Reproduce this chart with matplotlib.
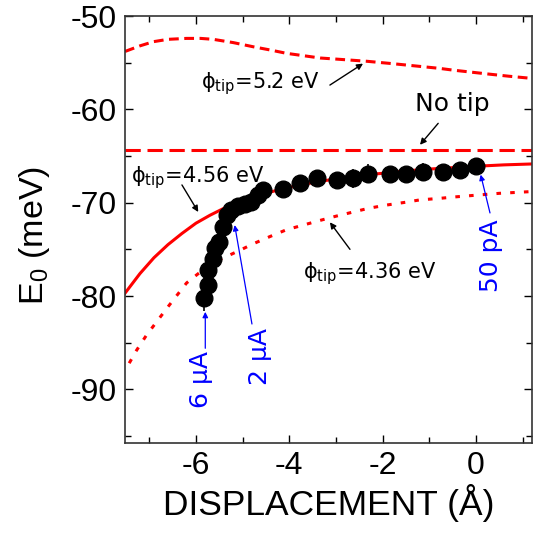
import numpy as np
import matplotlib
matplotlib.use("Agg")
import matplotlib.pyplot as plt
from matplotlib.ticker import MultipleLocator

plt.rcParams['mathtext.fontset'] = 'dejavusans'
plt.rcParams['axes.unicode_minus'] = False

# ---- data ----
disp = [-5.83, -5.74, -5.74, -5.63, -5.59, -5.50, -5.41, -5.33, -5.24, -5.09,
        -4.95, -4.81, -4.66, -4.56, -4.13, -3.77, -3.41, -2.98, -2.63, -2.31,
        -1.84, -1.49, -1.13, -0.70, -0.34, 0.01]
e0 = [-80.2, -78.8, -77.2, -76.0, -74.9, -74.2, -72.6, -71.3, -70.8, -70.4,
      -70.1, -69.9, -69.2, -68.6, -68.5, -67.9, -67.4, -67.6, -67.4, -66.9,
      -66.9, -66.9, -66.7, -66.7, -66.5, -66.1]
e0_err = [1.4, 0.5, 0.5, 0.5, 0.5, 0.5, 0.5, 0.5, 0.5, 0.5,
          0.5, 0.5, 0.5, 0.5, 0.5, 0.9, 0.5, 0.5, 1.0, 1.0,
          0.5, 0.5, 1.0, 0.5, 0.5, 0.7]

x_456 = [-7.52, -7.2, -6.9, -6.6, -6.3, -6.0, -5.7, -5.4, -5.1, -4.8, -4.4,
         -4.0, -3.5, -3.0, -2.5, -2.0, -1.5, -1.0, -0.5, 0.0, 0.6, 1.22]
y_456 = [-79.7, -77.6, -75.9, -74.5, -73.3, -72.2, -71.35, -70.6, -70.0, -69.45, -68.85,
         -68.35, -67.85, -67.45, -67.1, -66.85, -66.6, -66.4, -66.25, -66.1, -65.95, -65.85]

x_436 = [-7.43, -7.27, -7.06, -6.84, -6.59, -6.2, -5.85, -5.49, -5.1, -4.77, -4.4,
         -4.06, -3.7, -3.34, -3.0, -2.63, -2.3, -1.91, -1.5, -1.2, -0.8, -0.49, 0.0, 0.5, 1.23]
y_436 = [-87.2, -85.8, -84.2, -82.75, -81.1, -78.6, -77.2, -76.1, -75.2, -74.4, -73.6,
         -72.9, -72.4, -71.9, -71.45, -71.0, -70.6, -70.25, -69.95, -69.7, -69.55, -69.4, -69.2, -69.0, -68.8]

x_52 = [-7.52, -7.2, -6.91, -6.6, -6.2, -5.9, -5.63, -5.2, -4.77, -4.4, -4.06, -3.7,
        -3.34, -2.9, -2.34, -1.8, -1.2, -0.8, -0.49, 0.23, 0.7, 1.23]
y_52 = [-53.8, -53.2, -52.75, -52.5, -52.4, -52.4, -52.5, -52.85, -53.3, -53.65, -54.0, -54.25,
        -54.5, -54.65, -54.85, -55.1, -55.4, -55.6, -55.8, -56.2, -56.45, -56.7]

no_tip_level = -64.4

xticks = [-6, -4, -2, 0]
yticks = [-90, -80, -70, -60, -50]

# ---- figure ----
fig = plt.figure(figsize=(5.37, 5.33), dpi=100)
ax = fig.add_axes([125/537, 1-443/533, (532-125)/537, (443-16)/533])

red = '#ff0000'
ax.plot(x_52, y_52, color=red, lw=2.2, ls=(0, (3.2, 1.8)))
ax.axhline(no_tip_level, color=red, lw=2.2, ls=(0, (5, 2.2)))
ax.plot(x_456, y_456, color=red, lw=2.2, ls='-')
ax.plot(x_436, y_436, color=red, lw=2.2, ls=(0, (1.5, 3.0)))

ax.errorbar(disp, e0, yerr=e0_err, fmt='o', color='black', ms=12,
            elinewidth=1.2, capsize=0, zorder=5)

ax.set_xlim(-7.52, 1.2)
ax.set_ylim(-95.75, -50)
ax.set_xticks(xticks)
ax.set_yticks(yticks)
ax.xaxis.set_minor_locator(MultipleLocator(1))
ax.yaxis.set_minor_locator(MultipleLocator(5))
ax.tick_params(which='both', direction='in', top=True, right=True, width=1.0)
ax.tick_params(which='major', length=6)
ax.tick_params(which='minor', length=4)
ax.tick_params(which='both', labelsize=23, pad=6)
for lab in ax.get_xticklabels() + ax.get_yticklabels():
    lab.set_family('Liberation Sans')
for s in ax.spines.values():
    s.set_linewidth(1.2)
    s.set_color('#333333')

ax.set_xlabel('DISPLACEMENT (Å)', fontsize=25.5, family='Liberation Sans')
ax.xaxis.set_label_coords(0.5, -0.095)
ax.set_ylabel(r'E$_{\mathregular{0}}$ (meV)', fontsize=24.5, family='Liberation Sans')
ax.yaxis.set_label_coords(-0.18, 0.487)

# ---- annotations ----
tfs = 15
ann_kw = dict(arrowprops=dict(arrowstyle='-|>', color='black', lw=1.0,
                              mutation_scale=9, shrinkA=0, shrinkB=0))
ax.annotate('', xy=(-2.42, -55.1), xytext=(-3.13, -57.4), **ann_kw)
ax.text(-5.9, -57.2, r'ϕ$_{\rm tip}$=5.2 eV', fontsize=tfs, va='center', ha='left', family='DejaVu Sans')
ax.text(-0.51, -59.4, 'No tip', fontsize=18, va='center', ha='center', family='DejaVu Sans')
ax.annotate('', xy=(-1.2, -63.8), xytext=(-0.81, -61.5), **ann_kw)
ax.text(-7.4, -67.3, r'ϕ$_{\rm tip}$=4.56 eV', fontsize=tfs, va='center', ha='left', family='DejaVu Sans')
ax.annotate('', xy=(-5.95, -71.0), xytext=(-6.3, -68.1), **ann_kw)
ax.text(-3.7, -77.6, r'ϕ$_{\rm tip}$=4.36 eV', fontsize=tfs, va='center', ha='left', family='DejaVu Sans')
ax.annotate('', xy=(-3.13, -72.1), xytext=(-2.7, -75.0), **ann_kw)

blue = '#0000ff'
bfs = 18
bkw = dict(arrowprops=dict(arrowstyle='-|>', color=blue, lw=0.9,
                           mutation_scale=8, shrinkA=0, shrinkB=0))
ax.text(-5.89, -88.9, '6 μA', color=blue, fontsize=bfs, rotation=90, va='center', ha='center', family='DejaVu Sans')
ax.annotate('', xy=(-5.8, -81.7), xytext=(-5.8, -85.6), **bkw)
ax.text(-4.63, -86.5, '2 μA', color=blue, fontsize=bfs, rotation=90, va='center', ha='center', family='DejaVu Sans')
ax.annotate('', xy=(-5.17, -72.4), xytext=(-4.8, -83.0), **bkw)
ax.text(0.32, -75.7, '50 pA', color=blue, fontsize=bfs, rotation=90, va='center', ha='center', family='DejaVu Sans')
ax.annotate('', xy=(0.1, -67.0), xytext=(0.3, -71.1), **bkw)

fig.savefig('out.png', dpi=100)
